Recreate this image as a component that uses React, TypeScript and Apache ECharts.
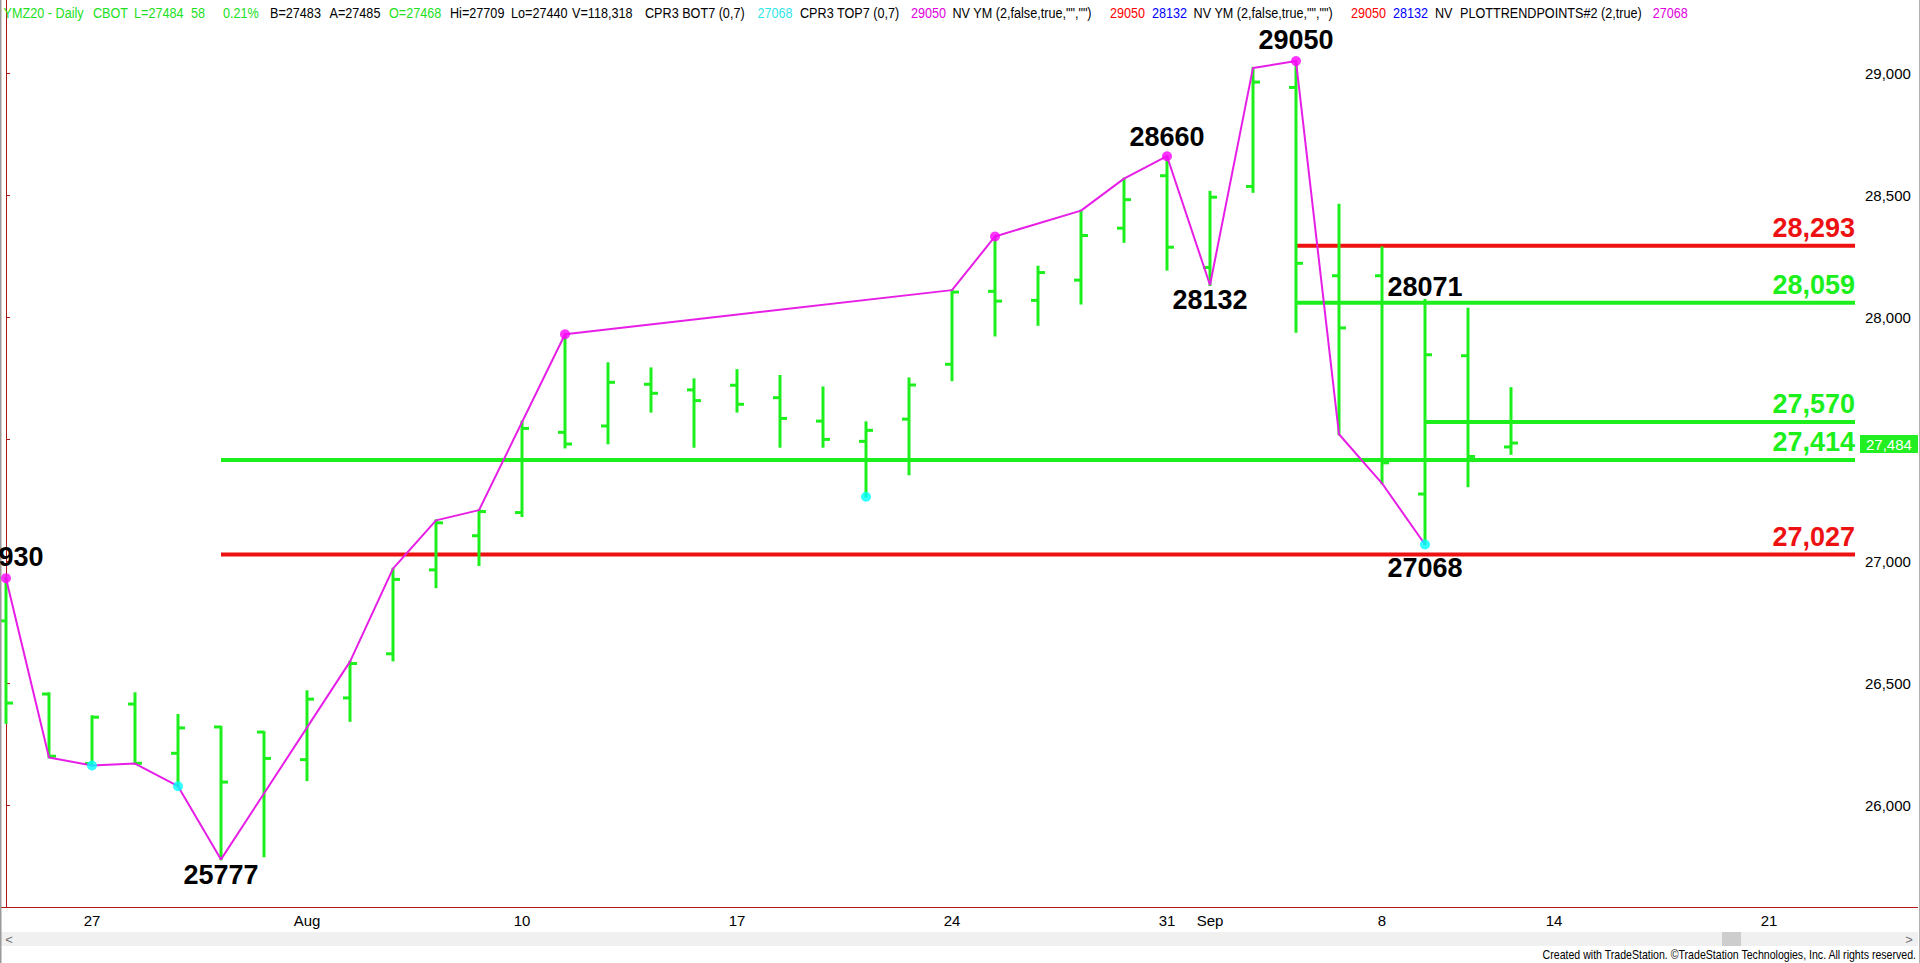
import React, { useEffect, useRef } from 'react';
import * as echarts from 'echarts';

// ---------- data ----------
const dates = ['Jul 23','Jul 24','Jul 27','Jul 28','Jul 29','Jul 30','Jul 31','Aug 3','Aug 4','Aug 5','Aug 6','Aug 7','Aug 10','Aug 11','Aug 12','Aug 13','Aug 14','Aug 17','Aug 18','Aug 19','Aug 20','Aug 21','Aug 24','Aug 25','Aug 26','Aug 27','Aug 28','Aug 31','Sep 1','Sep 2','Sep 3','Sep 4','Sep 8','Sep 9','Sep 10','Sep 11','Sep 14','Sep 15','Sep 16','Sep 17','Sep 18','Sep 21','Sep 22','Sep 23'];
const opens  = [26755,26455,26170,26414,26212,26320,26299,26186,26439,26620,26964,27104,27199,27528,27554,27725,27702,27721,27670,27574,27491,27582,27807,28106,28069,28152,28365,28580,28204,28536,28942,28170,28170,27275,27842,27468];
const highs  = [26930,26458,26364,26458,26369,26320,26299,26466,26588,26969,27167,27209,27572,27930,27811,27790,27745,27783,27759,27712,27569,27749,28111,28331,28207,28437,28568,28660,28514,29022,29050,28461,28286,28071,28035,27709];
const lows   = [26337,26195,26162,26170,26077,25777,25790,26102,26345,26593,26893,26984,27185,27466,27483,27613,27469,27613,27469,27469,27264,27356,27742,27925,27969,28056,28309,28195,28132,28514,27940,27520,27319,27068,27307,27440];
const closes = [26418,26200,26360,26171,26316,26094,26191,26434,26580,26925,27157,27203,27544,27480,27733,27688,27658,27643,27585,27499,27536,27722,28103,28066,28183,28335,28482,28287,28492,28964,28221,27956,27403,27846,27429,27484];

const axisLabelIdx = [2, 7, 12, 17, 22, 27, 28, 32, 36, 41];
const axisLabelText = ['27', 'Aug', '10', '17', '24', '31', 'Sep', '8', '14', '21'];
const priceTicks = [26000, 26500, 27000, 27500, 28000, 28500, 29000];

const zigzagIdx = [0, 1, 2, 3, 4, 5, 8, 9, 10, 11, 13, 22, 23, 25, 26, 27, 28, 29, 30, 31, 32, 33];
const zigzagVal = [26930, 26195, 26162, 26170, 26077, 25777, 26588, 26969, 27167, 27209, 27930, 28111, 28331, 28437, 28568, 28660, 28132, 29022, 29050, 27520, 27319, 27068];

const highDotIdx = [0, 13, 23, 27, 30];
const lowDotIdx = [2, 4, 20, 33];

const pivotIdx = [0, 5, 27, 28, 30, 33, 33];
const pivotSide = ['high', 'low', 'high', 'low', 'high', 'low', 'high'];

const levelValues = [28293, 28059, 27570, 27414, 27027];
const levelStart = [30, 30, 33, 5, 5];
const levelKind = ['red', 'green', 'green', 'green', 'red'];
const levelEnd = 43;

const lastPrice = 27484;
const lastIdx = 35;

const headerTexts = ['YMZ20 - Daily', 'CBOT', 'L=27484', '58', '0.21%', 'B=27483', 'A=27485', 'O=27468', 'Hi=27709', 'Lo=27440', 'V=118,318', 'CPR3 BOT7 (0,7)', '27068', 'CPR3 TOP7 (0,7)', '29050', 'NV YM (2,false,true,"","")', '29050', '28132', 'NV YM (2,false,true,"","")', '29050', '28132', 'NV', 'PLOTTRENDPOINTS#2 (2,true)', '27068'];
const headerColorKeys = ['g', 'g', 'g', 'g', 'g', 'k', 'k', 'g', 'k', 'k', 'k', 'k', 'c', 'k', 'm', 'k', 'r', 'b', 'k', 'r', 'b', 'k', 'k', 'm'];

const footerText = 'Created with TradeStation. \u00A9TradeStation Technologies, Inc. All rights reserved.';

// ---------- layout / styles ----------
const headerX = [3.6, 92.9, 134, 191, 223, 270, 329.5, 389, 450, 511, 572, 645, 757.4, 800, 911, 952.5, 1110, 1152, 1193.6, 1351, 1393, 1435, 1460, 1652.7];
const pivotOffset = [-21, 16, -19, 15, -21, 23, -13];

const FONT = '"Liberation Sans", Arial, Helvetica, sans-serif';
const GREEN = '#1cef1c';
const RED = '#ee1111';
const PINK = '#e61ee6';
const MAGENTA = '#ff00ff';
const CYAN = '#00ffff';
const AXIS = '#b01818';
const headerColorMap: Record<string, string> = {
  g: '#22e022', k: '#000000', c: '#33e6e6', m: '#e000e0', r: '#ff0000', b: '#0000ff',
};

function measure(text: string, font: string): number {
  const c = document.createElement('canvas').getContext('2d');
  if (!c) return 0;
  c.font = font;
  return c.measureText(text).width;
}

function fmt(v: number): string {
  return Math.round(v).toLocaleString('en-US');
}

export default function App() {
  const ref = useRef<HTMLDivElement>(null);

  useEffect(() => {
    document.body.style.margin = '0';
    if (!ref.current) return;
    const chart = echarts.init(ref.current, null, { renderer: 'svg' });

    const hdrW = measure('PLOTTRENDPOINTS#2 (2,true)', `15px ${FONT}`);
    const hdrScale = hdrW > 0 ? 181.7 / hdrW : 0.84;
    const ftW = measure(footerText, `12px ${FONT}`);
    const ftScale = ftW > 0 ? 375 / ftW : 0.8;

    const ohlcData = opens.map((o, i) => [i, o, highs[i], lows[i], closes[i]]);

    const graphic: any[] = [];
    headerTexts.forEach((t, k) => {
      graphic.push({
        type: 'text', x: headerX[k], y: 13, scaleX: hdrScale, z: 100,
        style: { text: t, fill: headerColorMap[headerColorKeys[k]], fontSize: 15, fontFamily: FONT, align: 'left', verticalAlign: 'middle' },
      });
    });
    // scrollbar
    graphic.push({ type: 'rect', shape: { x: 0, y: 932, width: 1918, height: 14 }, style: { fill: '#f0f0f0' }, z: 1 });
    graphic.push({ type: 'rect', shape: { x: 1722, y: 932, width: 19, height: 14 }, style: { fill: '#cdcdcd' }, z: 2 });
    graphic.push({ type: 'text', x: 9, y: 939, style: { text: '<', fill: '#707070', fontSize: 13, fontFamily: FONT, align: 'center', verticalAlign: 'middle' }, z: 3 });
    graphic.push({ type: 'text', x: 1909, y: 939, style: { text: '>', fill: '#707070', fontSize: 13, fontFamily: FONT, align: 'center', verticalAlign: 'middle' }, z: 3 });
    // footer
    graphic.push({
      type: 'text', x: 1916, y: 955, scaleX: ftScale,
      style: { text: footerText, fill: '#000', fontSize: 12, fontFamily: FONT, align: 'right', verticalAlign: 'middle' }, z: 3,
    });
    // borders
    graphic.push({ type: 'line', shape: { x1: 0.5, y1: 0, x2: 0.5, y2: 963 }, style: { stroke: '#9a9a9a', lineWidth: 2 }, z: 3 });
    graphic.push({ type: 'line', shape: { x1: 1919.5, y1: 0, x2: 1919.5, y2: 963 }, style: { stroke: '#b0b0b0', lineWidth: 1 }, z: 3 });
    graphic.push({ type: 'line', shape: { x1: 1859, y1: 907.5, x2: 1918, y2: 907.5 }, style: { stroke: AXIS, lineWidth: 1 }, z: 3 });

    const option: any = {
      animation: false,
      backgroundColor: '#ffffff',
      grid: { left: 0, right: 61, top: 0, bottom: 56 },
      xAxis: {
        type: 'value', min: -0.1395, max: 43.093,
        axisLine: { show: true, onZero: false, lineStyle: { color: AXIS, width: 1 } },
        axisTick: { show: false },
        splitLine: { show: false },
        axisLabel: {
          customValues: axisLabelIdx,
          formatter: (v: number) => {
            const k = axisLabelIdx.indexOf(Math.round(v));
            return k >= 0 ? axisLabelText[k] : '';
          },
          color: '#000', fontSize: 15, fontFamily: FONT, margin: 6,
        },
      },
      yAxis: {
        type: 'value', position: 'right', min: 25581.8, max: 29300.5, scale: true,
        axisLine: { show: true, lineStyle: { color: AXIS, width: 1 } },
        axisTick: { show: true, length: 4, lineStyle: { color: AXIS }, customValues: priceTicks },
        axisLabel: { customValues: priceTicks, formatter: (v: number) => fmt(v), color: '#000', fontSize: 15, fontFamily: FONT, margin: 6 },
        splitLine: { show: false },
      },
      graphic,
      series: [
        {
          type: 'custom', name: 'levels', z: 1, clip: false,
          data: levelValues.map((v, k) => [levelStart[k], v]),
          renderItem: (params: any, api: any) => {
            const k = params.dataIndex;
            const v = levelValues[k];
            const p1 = api.coord([levelStart[k], v]);
            const p2 = api.coord([levelEnd, v]);
            const col = levelKind[k] === 'red' ? RED : GREEN;
            return {
              type: 'group',
              children: [
                { type: 'line', shape: { x1: p1[0], y1: p1[1], x2: p2[0], y2: p2[1] }, style: { stroke: col, lineWidth: 4 } },
                { type: 'text', x: p2[0], y: p2[1] - 18, style: { text: fmt(v), fill: col, fontSize: 27, fontWeight: 'bold', fontFamily: FONT, align: 'right', verticalAlign: 'middle' } },
              ],
            };
          },
        },
        {
          type: 'custom', name: 'ohlc', z: 2,
          data: ohlcData,
          encode: { x: 0, y: [1, 2, 3, 4] },
          renderItem: (params: any, api: any) => {
            const x = api.value(0);
            const pO = api.coord([x, api.value(1)]);
            const pH = api.coord([x, api.value(2)]);
            const pL = api.coord([x, api.value(3)]);
            const pC = api.coord([x, api.value(4)]);
            const st = { stroke: GREEN, lineWidth: 3 };
            return {
              type: 'group',
              children: [
                { type: 'line', shape: { x1: pH[0], y1: pH[1] - 1, x2: pL[0], y2: pL[1] + 1 }, style: st },
                { type: 'line', shape: { x1: pO[0] - 7, y1: pO[1], x2: pO[0], y2: pO[1] }, style: st },
                { type: 'line', shape: { x1: pC[0], y1: pC[1], x2: pC[0] + 7, y2: pC[1] }, style: st },
              ],
            };
          },
        },
        {
          type: 'line', name: 'zigzag', z: 3,
          data: zigzagIdx.map((ix, k) => [ix, zigzagVal[k]]),
          showSymbol: false, symbol: 'none',
          lineStyle: { color: PINK, width: 2 },
        },
        {
          type: 'scatter', name: 'pivot highs', z: 4,
          data: highDotIdx.map((ix) => [ix, highs[ix]]),
          symbol: 'circle', symbolSize: 10,
          itemStyle: { color: MAGENTA },
        },
        {
          type: 'scatter', name: 'pivot lows', z: 4,
          data: lowDotIdx.map((ix) => [ix, lows[ix]]),
          symbol: 'circle', symbolSize: 10,
          itemStyle: { color: CYAN },
        },
        {
          type: 'custom', name: 'pivot labels', z: 5, clip: false,
          data: pivotIdx.map((ix, k) => [ix, pivotSide[k] === 'high' ? highs[ix] : lows[ix]]),
          renderItem: (params: any, api: any) => {
            const k = params.dataIndex;
            const ix = pivotIdx[k];
            const v = pivotSide[k] === 'high' ? highs[ix] : lows[ix];
            const p = api.coord([ix, v]);
            return {
              type: 'text', x: p[0], y: p[1] + pivotOffset[k],
              style: { text: String(v), fill: '#000', fontSize: 27, fontWeight: 'bold', fontFamily: FONT, align: 'center', verticalAlign: 'middle' },
            };
          },
        },
        {
          type: 'custom', name: 'last price', z: 10, clip: false,
          data: [[lastIdx, lastPrice]],
          renderItem: (params: any, api: any) => {
            const p = api.coord([lastIdx, lastPrice]);
            const cs = params.coordSys;
            const x0 = cs.x + cs.width + 1;
            return {
              type: 'group',
              children: [
                { type: 'rect', shape: { x: x0, y: p[1] - 8, width: 58, height: 18 }, style: { fill: '#22ee22' } },
                { type: 'text', x: x0 + 6, y: p[1] + 1, style: { text: fmt(lastPrice), fill: '#ffffff', fontSize: 15, fontFamily: FONT, align: 'left', verticalAlign: 'middle' } },
              ],
            };
          },
        },
      ],
    };

    chart.setOption(option);
    return () => chart.dispose();
  }, []);

  return <div ref={ref} style={{ width: 1920, height: 963 }} />;
}
